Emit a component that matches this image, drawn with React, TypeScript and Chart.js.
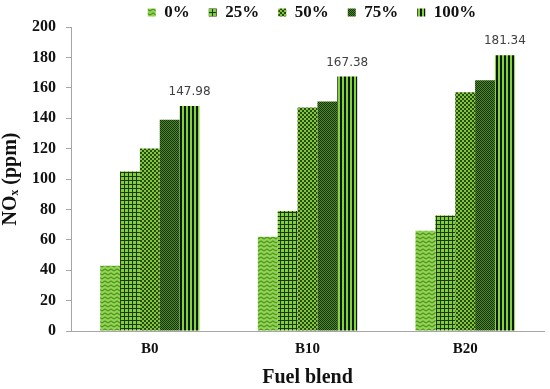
import React, { useEffect, useRef } from "react";
import { Chart, registerables } from "chart.js";

Chart.register(...registerables);

const categories = ["B0", "B10", "B20"];
const seriesNames = ["0%", "25%", "50%", "75%", "100%"];
const s0 = [43, 62, 66];
const s25 = [105, 79, 76];
const s50 = [120, 147, 157];
const s75 = [139, 151, 165];
const s100 = [147.98, 167.38, 181.34];
const yTicks = [0, 20, 40, 60, 80, 100, 120, 140, 160, 180, 200];

function makePattern(kind: string): CanvasPattern | string {
  const c = document.createElement("canvas");
  const ctx = c.getContext("2d");
  if (!ctx) return "#7cc242";
  if (kind === "zig") {
    c.width = 6; c.height = 4;
    ctx.fillStyle = "#93d452"; ctx.fillRect(0, 0, 6, 4);
    ctx.strokeStyle = "#4f9424"; ctx.lineWidth = 1.2;
    ctx.beginPath(); ctx.moveTo(0, 3); ctx.lineTo(3, 1); ctx.lineTo(6, 3); ctx.stroke();
  } else if (kind === "grid") {
    c.width = 4; c.height = 4;
    ctx.fillStyle = "#7ed03a"; ctx.fillRect(0, 0, 4, 4);
    ctx.fillStyle = "#1f360c"; ctx.fillRect(0, 0, 4, 1); ctx.fillRect(0, 0, 1, 4);
  } else if (kind === "check") {
    c.width = 4; c.height = 4;
    ctx.fillStyle = "#7cc83a"; ctx.fillRect(0, 0, 4, 4);
    ctx.fillStyle = "#2a4a12"; ctx.fillRect(0, 0, 2, 2); ctx.fillRect(2, 2, 2, 2);
  } else if (kind === "dark") {
    c.width = 2; c.height = 2;
    ctx.fillStyle = "#4a8a22"; ctx.fillRect(0, 0, 2, 2);
    ctx.fillStyle = "#1a300a"; ctx.fillRect(0, 0, 1, 1); ctx.fillRect(1, 1, 1, 1);
  } else {
    c.width = 4; c.height = 1;
    ctx.fillStyle = "#82d23c"; ctx.fillRect(0, 0, 4, 1);
    ctx.fillStyle = "#0d1a05"; ctx.fillRect(0, 0, 2, 1);
  }
  return ctx.createPattern(c, "repeat") || "#7cc242";
}

const labelPlugin = {
  id: "valueLabels",
  afterDatasetsDraw(chart: any) {
    const ctx = chart.ctx;
    const meta = chart.getDatasetMeta(4);
    const ds = chart.data.datasets[4];
    ctx.save();
    ctx.font = "12px 'DejaVu Sans', sans-serif";
    ctx.fillStyle = "#404040";
    ctx.textAlign = "center";
    ctx.textBaseline = "bottom";
    meta.data.forEach((bar: any, i: number) => {
      ctx.fillText(Number(ds.data[i]).toFixed(2), bar.x, bar.y - 8);
    });
    ctx.restore();
  },
};

// Shrinks the legend's reserved height and shifts it so it sits close to the plot.
const legendTweak = {
  id: "legendTweak",
  afterInit(chart: any) {
    const lg = chart.legend;
    if (!lg) return;
    const origFit = lg.fit;
    lg.fit = function () {
      origFit.call(this);
      this.height = 27;
    };
  },
  beforeDraw(chart: any) {
    const lg = chart.legend;
    if (!lg) return;
    lg.top = -15;
    lg.bottom = lg.top + 40;
    lg.left = 40;
    lg.right = lg.left + lg.width;
  },
};

export default function App() {
  const ref = useRef<HTMLCanvasElement | null>(null);
  useEffect(() => {
    document.body.style.margin = "0";
    if (!ref.current) return;
    const kinds = ["zig", "grid", "check", "dark", "stripe"];
    const values = [s0, s25, s50, s75, s100];
    const serif = "'Liberation Serif', 'Times New Roman', serif";
    const chart = new Chart(ref.current, {
      type: "bar",
      data: {
        labels: categories,
        datasets: seriesNames.map((name, i) => ({
          label: name,
          data: values[i],
          backgroundColor: makePattern(kinds[i]) as any,
          borderWidth: 0,
          barPercentage: 1,
          categoryPercentage: 0.63,
        })),
      },
      options: {
        animation: false,
        responsive: false,
        layout: { padding: { left: 0, right: 6, top: 0, bottom: 0 } },
        plugins: {
          legend: {
            position: "top",
            labels: {
              boxWidth: 8,
              boxHeight: 8,
              padding: 19,
              color: "#111",
              font: { family: serif, size: 17, weight: "bold" },
            },
          },
          tooltip: { enabled: false },
        },
        scales: {
          x: {
            grid: { display: false, drawTicks: false },
            border: { color: "#a6a6a6", width: 1 },
            ticks: { color: "#111", font: { family: serif, size: 15, weight: "bold", lineHeight: 1.0 }, padding: 11 },
            title: { display: true, text: "Fuel blend", color: "#111", font: { family: serif, size: 20, weight: "bold", lineHeight: 1.0 }, padding: { top: 0, bottom: 1 } },
          },
          y: {
            min: 0,
            max: 200,
            afterBuildTicks: (axis: any) => { axis.ticks = yTicks.map((v) => ({ value: v })); },
            grid: { drawOnChartArea: false, color: "#a6a6a6", tickLength: 5 },
            border: { color: "#a6a6a6", width: 1 },
            ticks: { color: "#111", font: { family: serif, size: 16, weight: "bold" }, padding: 10 },
            title: { display: true, text: "NOₓ (ppm)", color: "#111", font: { family: serif, size: 20, weight: "bold", lineHeight: 1.1 }, padding: { top: 0, bottom: 0 } },
          },
        },
      } as any,
      plugins: [labelPlugin, legendTweak],
    });
    return () => chart.destroy();
  }, []);
  return <canvas ref={ref} width={550} height={389} style={{ display: "block" }} />;
}
